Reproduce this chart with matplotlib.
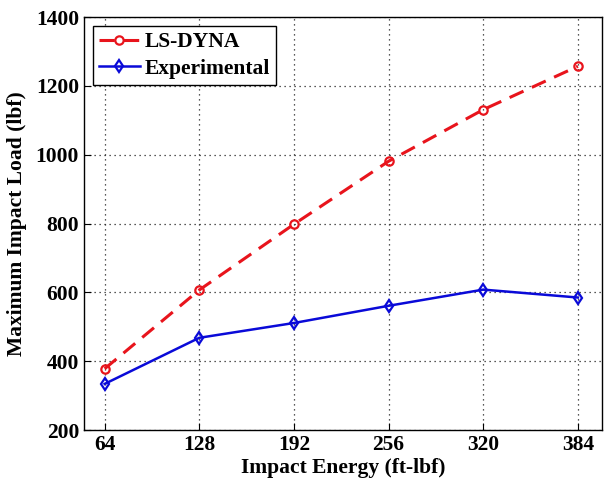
import numpy as np
import matplotlib.pyplot as plt

# datos
energia = [64, 128, 192, 256, 320, 384]
ls_dyna = [378, 607, 798, 981, 1131, 1257]
experimental = [334, 468, 511, 561, 608, 585]

plt.rcParams['font.family'] = ['Liberation Serif', 'DejaVu Serif']
plt.rcParams['font.weight'] = 'bold'

fig = plt.figure(figsize=(6.04, 4.87), dpi=100)
ax = fig.add_axes([0.139, 0.117, 0.857, 0.848])

ax.plot(energia, ls_dyna, '--o', color='#e8141c', lw=2.2, ms=6,
        mfc='none', mew=1.6, dashes=(5, 3), label='LS-DYNA')
ax.plot(energia, experimental, '-d', color='#0a0ad8', lw=1.8, ms=6,
        mfc='none', mew=1.6, label='Experimental')

ax.set_xlim(50, 400)
ax.set_ylim(200, 1400)
ax.set_xticks(energia)
ax.set_yticks(np.arange(200, 1401, 200))
ax.tick_params(direction='in', labelsize=15.5, length=5)
for t in ax.get_xticklabels() + ax.get_yticklabels():
    t.set_fontweight('bold')

ax.grid(True, linestyle=(0, (1, 3)), color='#222222', lw=0.9)
for s in ax.spines.values():
    s.set_linewidth(1.0)

ax.set_xlabel('Impact Energy (ft-lbf)', fontsize=15.5, fontweight='bold', labelpad=2)
ax.set_ylabel('Maximum Impact Load (lbf)', fontsize=15.5, fontweight='bold', labelpad=6)

leg = ax.legend(loc='upper left', fontsize=15.5, frameon=True, fancybox=False,
                edgecolor='black', handlelength=1.9, borderpad=0.3,
                labelspacing=0.3, handletextpad=0.2, borderaxespad=0.4)
leg.get_frame().set_linewidth(1.0)
leg.get_frame().set_alpha(1)

plt.savefig('out.png', dpi=100)
